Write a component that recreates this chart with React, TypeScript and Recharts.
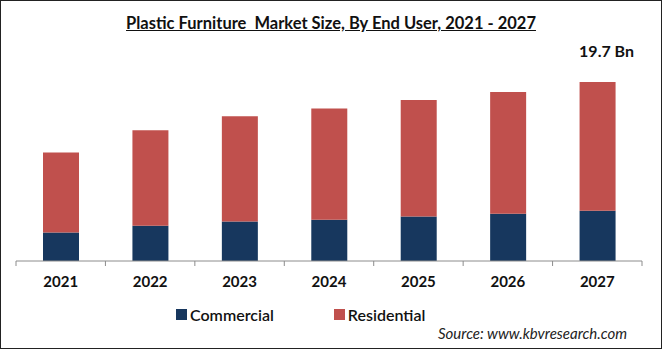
import React from 'react';
import { BarChart, Bar, XAxis, YAxis, LabelList } from 'recharts';

const years = ['2021', '2022', '2023', '2024', '2025', '2026', '2027'];
const commercial = [3.13, 3.87, 4.35, 4.54, 4.9, 5.2, 5.53];
const residential = [8.82, 10.52, 11.59, 12.25, 12.81, 13.39, 14.17];
const valueLabels = ['', '', '', '', '', '', '19.7 Bn'];

const NAVY = '#17375E';
const RED = '#C0504D';
const FONT = 'Lato, "Open Sans", sans-serif';

const data = years.map((year, i) => ({
  year,
  commercial: commercial[i],
  residential: residential[i],
  label: valueLabels[i],
}));

// year label plus the boundary tick marks between categories
const YearTick = (props: any) => {
  const { x, y, payload, index, visibleTicksCount } = props;
  const half = payload.offset || 0;
  return (
    <g>
      <line x1={x - half} x2={x - half} y1={y} y2={y + 5} stroke="#8c8c8c" />
      {index === visibleTicksCount - 1 && (
        <line x1={x + half} x2={x + half} y1={y} y2={y + 5} stroke="#8c8c8c" />
      )}
      <text x={x} y={y + 26} textAnchor="middle" fontFamily={FONT} fontWeight={700} fontSize={15} fill="#111">
        {payload.value}
      </text>
    </g>
  );
};

const TotalLabel = (props: any) => {
  const { x, y, width, value } = props;
  if (!value) return null;
  return (
    <text x={x + width / 2 + 9} y={y - 25} textAnchor="middle" fontFamily={FONT} fontWeight={700} fontSize={16} fill="#111">
      {value}
    </text>
  );
};

export default function App() {
  return (
    <div
      style={{
        position: 'absolute',
        left: 0,
        top: 0,
        width: 662,
        height: 349,
        boxSizing: 'border-box',
        border: '1px solid #222',
        background: '#fff',
        fontFamily: FONT,
      }}
    >
      <div
        style={{
          position: 'absolute',
          left: 0,
          width: 660,
          top: 12,
          textAlign: 'center',
          fontSize: 16.5,
          fontWeight: 700,
          textDecoration: 'underline',
          color: '#111',
          whiteSpace: 'pre',
        }}
      >
        {'Plastic Furniture  Market Size, By End User, 2021 - 2027'}
      </div>

      <div style={{ position: 'absolute', left: -1, top: -1 }}>
        <BarChart width={662} height={349} data={data} margin={{ top: 82, right: 20, left: 16, bottom: 58 }}>
          <XAxis
            dataKey="year"
            axisLine={{ stroke: '#8c8c8c' }}
            tickLine={false}
            tickSize={0}
            tickMargin={0}
            height={30}
            tick={<YearTick />}
            interval={0}
          />
          <YAxis hide domain={[0, 19.7]} />
          <Bar dataKey="commercial" stackId="a" fill={NAVY} barSize={36} isAnimationActive={false} />
          <Bar dataKey="residential" stackId="a" fill={RED} barSize={36} isAnimationActive={false}>
            <LabelList dataKey="label" content={<TotalLabel />} />
          </Bar>
        </BarChart>
      </div>

      <div
        style={{
          position: 'absolute',
          top: 304,
          left: 175,
          display: 'flex',
          alignItems: 'center',
          fontSize: 16,
          fontWeight: 600,
          color: '#111',
        }}
      >
        {[
          { name: 'Commercial', color: NAVY },
          { name: 'Residential', color: RED },
        ].map((s, i) => (
          <div key={s.name} style={{ display: 'flex', alignItems: 'center', marginLeft: i === 0 ? 0 : 60 }}>
            <span style={{ width: 11, height: 11, background: s.color, marginRight: 3, display: 'inline-block' }} />
            <span>{s.name}</span>
          </div>
        ))}
      </div>

      <div
        style={{
          position: 'absolute',
          top: 323,
          left: 437,
          fontSize: 15,
          fontStyle: 'italic',
          color: '#222',
        }}
      >
        Source: www.kbvresearch.com
      </div>
    </div>
  );
}
